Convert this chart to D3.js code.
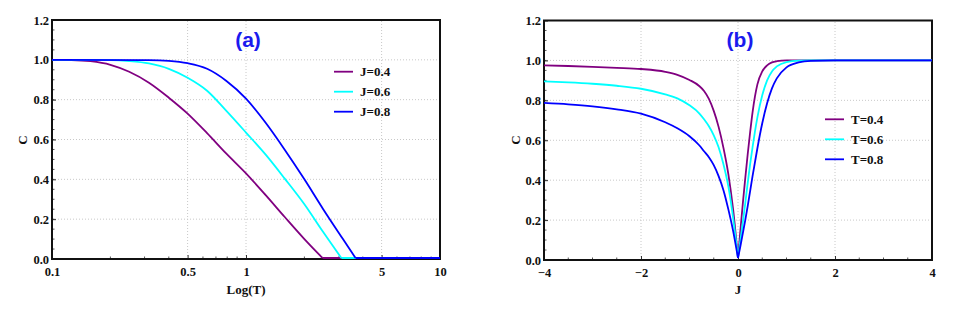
<!DOCTYPE html>
<html><head><meta charset="utf-8">
<script src="https://cdn.jsdelivr.net/npm/d3@7"></script>
<style>
body{margin:0;background:#fff;}
svg{display:block;}
</style></head>
<body><svg id="c" width="954" height="313"></svg>
<script>
// ---- Panel (a): C vs T (log axis) ----
const aTicksX = [0.1, 0.5, 1, 5, 10];
const aTickLabelsX = ["0.1", "0.5", "1", "5", "10"];
const yTicks = [0, 0.2, 0.4, 0.6, 0.8, 1.0, 1.2];
const yTickLabels = ["0.0", "0.2", "0.4", "0.6", "0.8", "1.0", "1.2"];
const aLegend = ["J=0.4", "J=0.6", "J=0.8"];

const j04T = [0.1, 0.126, 0.158, 0.2, 0.25, 0.316, 0.4, 0.5, 0.63, 0.79, 1.0, 1.26, 1.58, 2.0, 2.48, 10];
const j04C = [1.0, 0.999, 0.993, 0.975, 0.94, 0.885, 0.81, 0.73, 0.632, 0.53, 0.43, 0.322, 0.212, 0.10, 0.0, 0.0];
const j06T = [0.1, 0.2, 0.25, 0.316, 0.4, 0.5, 0.63, 0.79, 1.0, 1.26, 1.58, 2.0, 2.5, 3.1, 10];
const j06C = [1.0, 0.999, 0.994, 0.982, 0.955, 0.91, 0.845, 0.745, 0.635, 0.525, 0.405, 0.275, 0.135, 0.0, 0.0];
const j08T = [0.1, 0.316, 0.4, 0.5, 0.63, 0.79, 1.0, 1.26, 1.58, 2.0, 2.5, 3.16, 3.67, 10];
const j08C = [1.0, 0.999, 0.995, 0.983, 0.955, 0.895, 0.805, 0.685, 0.55, 0.40, 0.25, 0.10, 0.0, 0.0];

// ---- Panel (b): C vs J ----
const bTicksX = [-4, -2, 0, 2, 4];
const bTickLabelsX = ["\u22124", "\u22122", "0", "2", "4"];
const bLegend = ["T=0.4", "T=0.6", "T=0.8"];
const jGrid = [-4, -3.5, -3, -2.5, -2, -1.5, -1.25, -1, -0.8, -0.7, -0.6, -0.5, -0.4, -0.3, -0.2, -0.1, 0,
               0.05, 0.1, 0.15, 0.2, 0.25, 0.3, 0.35, 0.4, 0.5, 0.6, 0.7, 0.8, 1.0, 1.25, 1.5, 2, 3, 4];
const t04C = [0.975, 0.972, 0.968, 0.963, 0.957, 0.943, 0.928, 0.902, 0.872, 0.847, 0.807, 0.747, 0.667, 0.562, 0.432, 0.252, 0.01,
              0.15, 0.285, 0.41, 0.53, 0.64, 0.74, 0.82, 0.88, 0.945, 0.975, 0.99, 0.996, 1, 1, 1, 1, 1, 1];
const t06C = [0.895, 0.89, 0.883, 0.873, 0.858, 0.83, 0.81, 0.775, 0.735, 0.705, 0.67, 0.625, 0.565, 0.48, 0.37, 0.21, 0.01,
              0.10, 0.19, 0.285, 0.385, 0.48, 0.565, 0.645, 0.715, 0.825, 0.90, 0.945, 0.97, 0.992, 0.999, 1, 1, 1, 1];
const t08C = [0.787, 0.78, 0.77, 0.755, 0.733, 0.69, 0.66, 0.62, 0.575, 0.545, 0.515, 0.475, 0.42, 0.35, 0.255, 0.145, 0.01,
              0.07, 0.135, 0.20, 0.27, 0.345, 0.42, 0.49, 0.56, 0.685, 0.785, 0.86, 0.91, 0.965, 0.99, 0.998, 1, 1, 1];

const colors = ["#800080", "#00ffff", "#0000ff"];

const svg = d3.select("#c");
const serif = '"Liberation Serif","Times New Roman",serif';

function panel(opt) {
  const g = svg.append("g");
  const x = opt.x, y = opt.y;
  const [x0, x1] = x.range(), [y0, y1] = y.range();
  // grid
  g.append("g").selectAll("line").data(opt.gridX).join("line")
    .attr("x1", d => x(d)).attr("x2", d => x(d)).attr("y1", y0).attr("y2", y1)
    .attr("stroke", "#c8c8c8").attr("stroke-width", 1).attr("stroke-dasharray", "1,2");
  g.append("g").selectAll("line").data(yTicks.slice(1, -1)).join("line")
    .attr("x1", x0).attr("x2", x1).attr("y1", d => y(d)).attr("y2", d => y(d))
    .attr("stroke", "#c8c8c8").attr("stroke-width", 1).attr("stroke-dasharray", "1,2");
  // minor ticks
  g.append("g").selectAll("line").data(opt.minorX).join("line")
    .attr("x1", d => x(d)).attr("x2", d => x(d)).attr("y1", y0).attr("y2", y0 - 2.5)
    .attr("stroke", "#555").attr("stroke-width", 1);
  g.append("g").selectAll("line").data(d3.range(0, 1.2001, 0.05)).join("line")
    .attr("x1", x0).attr("x2", x0 + 2.5).attr("y1", d => y(d)).attr("y2", d => y(d))
    .attr("stroke", "#555").attr("stroke-width", 1);
  // axes
  const ax = d3.axisBottom(x).tickValues(opt.ticksX).tickFormat((d, i) => opt.labelsX[i]).tickSize(-4).tickPadding(8);
  const gx = g.append("g").attr("transform", `translate(0,${y0})`).call(ax);
  const ay = d3.axisLeft(y).tickValues(yTicks).tickFormat((d, i) => yTickLabels[i]).tickSize(-4).tickPadding(3);
  const gy = g.append("g").attr("transform", `translate(${x0},0)`).call(ay);
  [gx, gy].forEach(a => {
    a.select(".domain").remove();
    a.selectAll(".tick line").attr("stroke", "#333");
    a.selectAll(".tick text").attr("fill", "#111").style("font-size", "12.5px").style("font-family", serif).style("font-weight", "bold");
  });
  // frame
  g.append("rect").attr("x", x0).attr("y", y1).attr("width", x1 - x0).attr("height", y0 - y1)
    .attr("fill", "none").attr("stroke", "#111").attr("stroke-width", 2);
  // curves (split at the minimum so the kink stays sharp)
  const line = d3.line().x(d => x(d[0])).y(d => Math.min(y(d[1]), y0 - 1)).curve(d3.curveMonotoneX);
  opt.series.forEach((s, i) => {
    const pts = d3.zip(s.xs, s.ys);
    const k = d3.minIndex(s.ys);
    [pts.slice(0, k + 1), pts.slice(k)].forEach(seg => {
      if (seg.length < 2) return;
      g.append("path").datum(seg).attr("d", line)
        .attr("fill", "none").attr("stroke", colors[i]).attr("stroke-width", 1.8).attr("stroke-linejoin", "round");
    });
  });
  // titles
  g.append("text").attr("x", (x0 + x1) / 2).attr("y", 294).attr("text-anchor", "middle")
    .style("font-family", serif).style("font-weight", "bold").style("font-size", "13px").attr("fill", "#111").text(opt.xTitle);
  g.append("text").attr("transform", `translate(${opt.cx},140) rotate(-90)`).attr("text-anchor", "middle").attr("dy", "0.35em")
    .style("font-family", serif).style("font-weight", "bold").style("font-size", "13px").attr("fill", "#111").text("C");
  g.append("text").attr("x", opt.labX).attr("y", 47).attr("text-anchor", "middle")
    .style("font-family", '"Liberation Sans",Arial,sans-serif').style("font-weight", "bold").style("font-size", "21px")
    .attr("fill", "#1a1aee").text(opt.label);
  // legend
  const lg = g.append("g");
  opt.legend.forEach((t, i) => {
    const ly = opt.legY + i * 20;
    lg.append("line").attr("x1", opt.legX).attr("x2", opt.legX + 19).attr("y1", ly).attr("y2", ly)
      .attr("stroke", colors[i]).attr("stroke-width", 1.8);
    lg.append("text").attr("x", opt.legX + 26).attr("y", ly).attr("dy", "0.35em")
      .style("font-family", serif).style("font-weight", "bold").style("font-size", "13px").attr("fill", "#111").text(t);
  });
}

const xa = d3.scaleLog().domain([0.1, 10]).range([52, 440]);
const ya = d3.scaleLinear().domain([0, 1.2]).range([259, 20]);
panel({
  x: xa, y: ya, gridX: [0.5, 1, 5],
  minorX: [0.2, 0.3, 0.4, 0.6, 0.7, 0.8, 0.9, 2, 3, 4, 6, 7, 8, 9],
  ticksX: aTicksX, labelsX: aTickLabelsX,
  series: [{xs: j04T, ys: j04C}, {xs: j06T, ys: j06C}, {xs: j08T, ys: j08C}],
  xTitle: "Log(T)", cx: 22, label: "(a)", labX: 248, legend: aLegend, legX: 334, legY: 71.7
});

const xb = d3.scaleLinear().domain([-4, 4]).range([544, 932]);
const yb = d3.scaleLinear().domain([0, 1.2]).range([260, 20.5]);
panel({
  x: xb, y: yb, gridX: [-2, 0, 2],
  minorX: d3.range(-3.5, 4, 0.5).filter(v => Math.abs(v % 2) > 0.01),
  ticksX: bTicksX, labelsX: bTickLabelsX,
  series: [{xs: jGrid, ys: t04C}, {xs: jGrid, ys: t06C}, {xs: jGrid, ys: t08C}],
  xTitle: "J", cx: 515, label: "(b)", labX: 740, legend: bLegend, legX: 825, legY: 119.3
});
</script></body></html>
